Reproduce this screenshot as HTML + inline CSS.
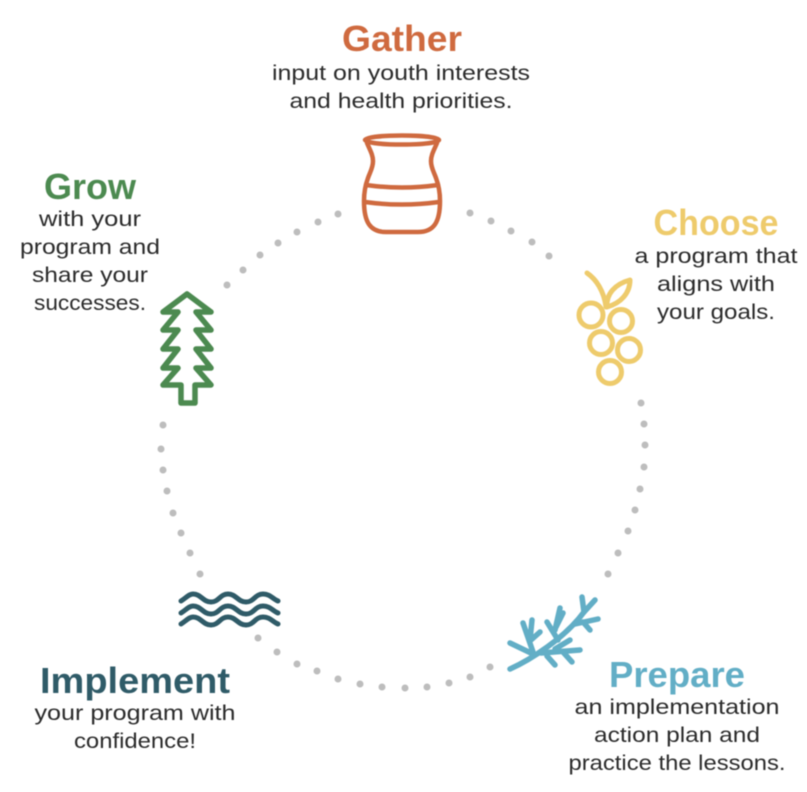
<!DOCTYPE html>
<html><head><meta charset="utf-8"><style>
html,body{margin:0;padding:0;background:#fff}
svg{display:block;filter:blur(.5px)}
text{font-family:"Liberation Sans",sans-serif;text-anchor:middle}
.b{font-size:21.5px;fill:#2b2b2b}
.h{font-size:36px;font-weight:bold}
</style></head><body>
<svg width="807" height="792" viewBox="0 0 807 792" xmlns="http://www.w3.org/2000/svg">
<rect width="807" height="792" fill="#fff"/>
<g fill="#bdbdbd">
<circle cx="338" cy="214" r="3.5"/><circle cx="318" cy="222" r="3.5"/><circle cx="297" cy="232" r="3.5"/><circle cx="278" cy="243" r="3.5"/><circle cx="260" cy="255" r="3.5"/><circle cx="243" cy="270" r="3.5"/><circle cx="227" cy="285" r="3.5"/>
<circle cx="470" cy="213" r="3.5"/><circle cx="491" cy="221" r="3.5"/><circle cx="511" cy="231" r="3.5"/><circle cx="532" cy="242" r="3.5"/><circle cx="549" cy="256" r="3.5"/>
<circle cx="641" cy="403" r="3.5"/><circle cx="644" cy="424" r="3.5"/><circle cx="645" cy="445" r="3.5"/><circle cx="644" cy="467" r="3.5"/><circle cx="640" cy="489" r="3.5"/><circle cx="635" cy="510" r="3.5"/><circle cx="628" cy="531" r="3.5"/><circle cx="618" cy="553" r="3.5"/><circle cx="608" cy="574" r="3.5"/>
<circle cx="490" cy="667" r="3.5"/><circle cx="470" cy="677" r="3.5"/><circle cx="449" cy="683" r="3.5"/><circle cx="427" cy="687" r="3.5"/><circle cx="405" cy="688" r="3.5"/><circle cx="382" cy="687" r="3.5"/><circle cx="360" cy="684" r="3.5"/><circle cx="338" cy="679" r="3.5"/><circle cx="317" cy="671" r="3.5"/><circle cx="297" cy="664" r="3.5"/><circle cx="277" cy="652" r="3.5"/><circle cx="258" cy="638" r="3.5"/>
<circle cx="200" cy="574" r="3.5"/><circle cx="190" cy="553" r="3.5"/><circle cx="181" cy="533" r="3.5"/><circle cx="173" cy="513" r="3.5"/><circle cx="167" cy="491" r="3.5"/><circle cx="163" cy="470" r="3.5"/><circle cx="161" cy="449" r="3.5"/><circle cx="163" cy="425" r="3.5"/>
</g>

<!-- Gather: jar -->
<g fill="none" stroke="#cf6a3f" stroke-width="4.5" stroke-linecap="round" stroke-linejoin="round">
<ellipse cx="402" cy="140" rx="37" ry="4.5"/>
<path d="M367 143C370 150 373 155 373 161C373 168 370 172 368 178C365 186 364 192 364 201C364 222 370 232 386 232H418C434 232 440 222 440 201C440 192 439 186 436 178C434 172 431 168 431 161C431 155 434 150 437 143"/>
<path d="M366 185Q402 190 438 185"/>
<path d="M365 202Q402 207 439 202"/>
</g>

<!-- Choose: grapes -->
<g fill="none" stroke="#eecb6c" stroke-width="5" stroke-linecap="round" stroke-linejoin="round">
<circle cx="591" cy="315" r="12"/><circle cx="621" cy="321" r="11.5"/><circle cx="601" cy="343" r="11.5"/><circle cx="629" cy="350" r="11.5"/><circle cx="610" cy="372" r="11.5"/>
<path d="M587 273C596 279 604 291 606 307"/>
<path d="M607 307C606 294 615 284 630 280C630 293 621 303 607 307Z"/>
</g>

<!-- Grow: tree -->
<path fill="none" stroke="#4c8a50" stroke-width="5.5" stroke-linejoin="round" stroke-linecap="round" d="M187 294L211 312H196L211 330H196L211 349H196L211 368H196L211 385H195V403H181V385H163L178 368H163L178 349H163L178 330H163L178 312H163Z"/>

<!-- Implement: waves -->
<g fill="none" stroke="#2f5b68" stroke-width="5" stroke-linecap="round">
<path id="w" d="M181 601C186 598 189 594 193 594C201 594 203 602 211 602C219 602 220 594 228 594C236 594 238 602 246 602C254 602 255 594 263 594C270 594 273 599 278 601"/>
<path transform="translate(0,12)" d="M181 601C186 598 189 594 193 594C201 594 203 602 211 602C219 602 220 594 228 594C236 594 238 602 246 602C254 602 255 594 263 594C270 594 273 599 278 601"/>
<path transform="translate(0,23)" d="M181 601C186 598 189 594 193 594C201 594 203 602 211 602C219 602 220 594 228 594C236 594 238 602 246 602C254 602 255 594 263 594C270 594 273 599 278 601"/>
</g>

<!-- Prepare: sprig -->
<g fill="none" stroke="#62aec6" stroke-width="5.5" stroke-linecap="round" stroke-linejoin="round">
<path d="M510 669C530 660 565 638 584 612"/>
<path d="M584 612L595 600M584 612L582 597"/>
<path d="M575 624L598 619M583 622L590 630"/>
<path d="M541 653L580 650M555 649L570 640M547 656L555 665M563 652L572 662"/>
<path d="M558 640L547 622M555 630L560 608M556 627L563 613"/>
<path d="M533 652L523 623M530 640L532 620M531 640L540 632M510 643L533 654"/>
</g>

<text class="h" x="402" y="51" fill="#cf6a3f" textLength="120" lengthAdjust="spacingAndGlyphs">Gather</text>
<text class="b" x="401" y="80" textLength="258" lengthAdjust="spacingAndGlyphs">input on youth interests</text>
<text class="b" x="401" y="108" textLength="223" lengthAdjust="spacingAndGlyphs">and health priorities.</text>

<text class="h" x="716" y="235" fill="#eecb6c" textLength="125" lengthAdjust="spacingAndGlyphs">Choose</text>
<text class="b" x="716" y="263" textLength="163" lengthAdjust="spacingAndGlyphs">a program that</text>
<text class="b" x="716" y="291" textLength="118" lengthAdjust="spacingAndGlyphs">aligns with</text>
<text class="b" x="716" y="319" textLength="118" lengthAdjust="spacingAndGlyphs">your goals.</text>

<text class="h" x="90" y="199" fill="#4c8a50" textLength="92" lengthAdjust="spacingAndGlyphs">Grow</text>
<text class="b" x="90" y="226" textLength="102" lengthAdjust="spacingAndGlyphs">with your</text>
<text class="b" x="90" y="254" textLength="140" lengthAdjust="spacingAndGlyphs">program and</text>
<text class="b" x="90" y="282" textLength="116" lengthAdjust="spacingAndGlyphs">share your</text>
<text class="b" x="90" y="310" textLength="112" lengthAdjust="spacingAndGlyphs">successes.</text>

<text class="h" x="135" y="693" fill="#2f5b68" textLength="190" lengthAdjust="spacingAndGlyphs">Implement</text>
<text class="b" x="135" y="720" textLength="201" lengthAdjust="spacingAndGlyphs">your program with</text>
<text class="b" x="135" y="748" textLength="122" lengthAdjust="spacingAndGlyphs">confidence!</text>

<text class="h" x="677" y="687" fill="#62aec6" textLength="136" lengthAdjust="spacingAndGlyphs">Prepare</text>
<text class="b" x="677" y="714" textLength="205" lengthAdjust="spacingAndGlyphs">an implementation</text>
<text class="b" x="677" y="742" textLength="166" lengthAdjust="spacingAndGlyphs">action plan and</text>
<text class="b" x="677" y="770" textLength="217" lengthAdjust="spacingAndGlyphs">practice the lessons.</text>
</svg>
</body></html>
